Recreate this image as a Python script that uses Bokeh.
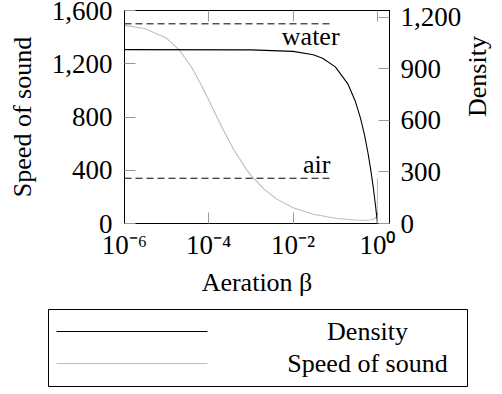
import math
from bokeh.plotting import figure
from bokeh.models import (Range1d, LinearAxis, LogAxis, FixedTicker, NumeralTickFormatter,
                          CustomJSTickFormatter, Label)
from bokeh.core.properties import value
from bokeh.embed import file_html
from bokeh.resources import INLINE

# ---- data ----
beta_speed = [1e-6, 3e-6, 1e-5, 2e-5, 4e-5, 7e-5, 1e-4, 2e-4, 4e-4, 8e-4, 1e-3, 2e-3,
              4e-3, 1e-2, 3e-2, 0.1, 0.3, 0.5, 0.7, 0.9, 0.97, 0.99, 0.997, 0.999, 1.0]
speed = [1488, 1465, 1391, 1303, 1168, 1026, 926, 728, 548, 401, 361, 260,
         185, 118, 69, 39, 26, 24, 26, 39, 68, 112, 182, 251, 340]

beta_density = [1e-6, 1e-3, 1e-2, 0.03, 0.05, 0.1, 0.2, 0.3, 0.4, 0.5, 0.6, 0.7,
                0.8, 0.9, 0.95, 1.0]
density = [1012, 1011, 1002, 982, 962, 912, 811, 710, 609, 507, 406, 305,
           204, 102, 51, 1]

water_speed = 1500
air_speed = 340
ref_beta = [1e-6, 0.085]
ref_names = ["water", "air"]

x_ticks = [1e-6, 1e-4, 1e-2, 1.0]
speed_ticks = [0, 400, 800, 1200, 1600]
density_ticks = [0, 300, 600, 900, 1200]
legend_labels = ["Density", "Speed of sound"]

FONT = "Liberation Serif"
FS = "26px"
TFS = "27px"
GRAY = "#bdbdbd"
TICK = "#9a9a9a"

p = figure(frame_width=265, frame_height=213, x_axis_type="log",
           x_range=Range1d(1e-6, 10 ** 0.285), y_range=Range1d(0, 1600),
           output_backend="svg", toolbar_location=None,
           min_border_left=124, min_border_right=113, min_border_top=10,
           min_border_bottom=77)
p.extra_y_ranges = {"dens": Range1d(0, 1240)}
p.grid.visible = False
p.outline_line_color = "black"
p.background_fill_color = "white"
p.border_fill_color = "white"


def style(ax):
    ax.axis_line_color = "black"
    ax.axis_line_width = 1
    ax.major_tick_in = 11
    ax.major_tick_out = 0
    ax.major_tick_line_color = TICK
    ax.major_tick_line_width = 1
    ax.minor_tick_line_color = None
    ax.major_label_text_font = FONT
    ax.major_label_text_font_size = TFS
    ax.major_label_text_color = "black"
    ax.axis_label_text_font = FONT
    ax.axis_label_text_font_size = FS
    ax.axis_label_text_font_style = "normal"
    ax.axis_label_text_color = "black"


sup_code = """
const sup = {"-": "\\u207B", "0": "\\u2070", "1": "\\u00B9", "2": "\\u00B2", "3": "\\u00B3",
             "4": "\\u2074", "5": "\\u2075", "6": "\\u2076", "7": "\\u2077", "8": "\\u2078", "9": "\\u2079"};
const e = Math.round(Math.log10(tick)).toString();
return "10" + e.split("").map(c => sup[c]).join("");
"""

xa = p.xaxis[0]
style(xa)
xa.ticker = FixedTicker(ticks=x_ticks)
xa.formatter = CustomJSTickFormatter(code=sup_code)
xa.major_label_standoff = 6
xa.axis_label = "Aeration \u03b2"
xa.axis_label_standoff = 5

ya = p.yaxis[0]
style(ya)
ya.ticker = FixedTicker(ticks=speed_ticks)
ya.formatter = NumeralTickFormatter(format="0,0")
ya.major_label_standoff = 12
ya.axis_label = "Speed of sound"
ya.axis_label_standoff = 12

top = LogAxis(ticker=FixedTicker(ticks=x_ticks))
style(top)
top.major_label_text_font_size = "1px"
top.major_label_text_color = None
top.major_label_standoff = 0
p.add_layout(top, "above")

ra = LinearAxis(y_range_name="dens", ticker=FixedTicker(ticks=density_ticks))
style(ra)
ra.formatter = NumeralTickFormatter(format="0,0")
ra.major_label_standoff = 11
ra.axis_label = "Density"
ra.axis_label_standoff = 13
if "axis_label_orientation" in LinearAxis.properties():
    ra.axis_label_orientation = math.pi / 2
p.add_layout(ra, "right")

p.line(beta_speed, speed, line_color=GRAY, line_width=1.1)
p.line(beta_density, density, y_range_name="dens", line_color="black", line_width=1.1)
p.line(ref_beta, [water_speed, water_speed], line_color="black", line_width=1, line_dash="7 4")
p.line(ref_beta, [air_speed, air_speed], line_color="black", line_width=1, line_dash="7 4")

p.add_layout(Label(x=0.126, y=1405, text=ref_names[0], text_align="right",
                   text_baseline="alphabetic", text_font=FONT, text_font_size=FS,
                   text_color="black"))
p.add_layout(Label(x=0.0767, y=440, text=ref_names[1], text_align="right",
                   text_baseline="alphabetic", text_font=FONT, text_font_size=FS,
                   text_color="black"))

# ---- legend drawn below (separate root, pixel-mapped ranges) ----
leg = figure(width=502, height=94, x_range=Range1d(0, 502), y_range=Range1d(0, 94),
             output_backend="svg", toolbar_location=None, min_border=0)
leg.axis.visible = False
leg.grid.visible = False
leg.outline_line_color = None
leg.quad(left=48, right=467, bottom=8, top=85, fill_color=None, line_color="black")
leg.line([56, 207], [63, 63], line_color="black", line_width=1.1)
leg.line([56, 207], [31, 31], line_color=GRAY, line_width=1.1)
leg.text(x=[367, 367], y=[63, 31], text=legend_labels, text_align="center",
         text_baseline="middle", text_font=value(FONT), text_font_size=value(FS),
         text_color="black")

open("out.html", "w", encoding="utf-8").write(file_html([p, leg], INLINE))
